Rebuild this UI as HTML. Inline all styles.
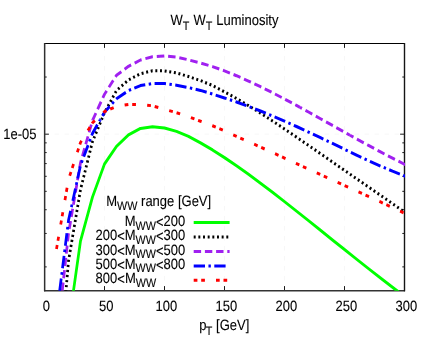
<!DOCTYPE html>
<html><head><meta charset="utf-8"><title>W_T W_T Luminosity</title>
<style>html,body{margin:0;padding:0;background:#fff;}body{width:427px;height:349px;position:relative;overflow:hidden;font-family:"Liberation Sans",sans-serif;}</style>
</head><body>
<svg width="427" height="349" viewBox="0 0 427 349" style="display:block;position:absolute;left:0;top:0">
<rect x="0" y="0" width="427" height="349" fill="#ffffff"/>
<path d="M104.5 290.5 V43.5 M164.5 290.5 V43.5 M224.5 290.5 V43.5 M284.5 290.5 V43.5 M344.5 290.5 V43.5 M44.5 134.08 H404.5" fill="none" stroke="#f7f7f7" stroke-width="1" stroke-dasharray="4.5 5.5"/>
<path d="M44.5 290.5 v-4.4 M44.5 43.5 v4.4 M104.5 290.5 v-4.4 M104.5 43.5 v4.4 M164.5 290.5 v-4.4 M164.5 43.5 v4.4 M224.5 290.5 v-4.4 M224.5 43.5 v4.4 M284.5 290.5 v-4.4 M284.5 43.5 v4.4 M344.5 290.5 v-4.4 M344.5 43.5 v4.4 M404.5 290.5 v-4.4 M404.5 43.5 v4.4 M44.5 77.03 h2.2 M404.5 77.03 h-2.2 M44.5 134.18 h4.4 M404.5 134.18 h-4.4 M44.5 142.87 h2.2 M404.5 142.87 h-2.2 M44.5 152.58 h2.2 M404.5 152.58 h-2.2 M44.5 163.59 h2.2 M404.5 163.59 h-2.2 M44.5 176.30 h2.2 M404.5 176.30 h-2.2 M44.5 191.33 h2.2 M404.5 191.33 h-2.2 M44.5 209.73 h2.2 M404.5 209.73 h-2.2 M44.5 233.45 h2.2 M404.5 233.45 h-2.2 M44.5 266.88 h2.2 M404.5 266.88 h-2.2" fill="none" stroke="#1a1a1a" stroke-width="1"/>
<path d="M44 43.5 H405" stroke="#000" stroke-width="1" fill="none"/>
<path d="M44 290.7 H405" stroke="#333" stroke-width="1.4" fill="none"/>
<path d="M44.65 43 V291.3" stroke="#303030" stroke-width="1.5" fill="none"/>
<path d="M404.5 43 V291.3" stroke="#151515" stroke-width="1.4" fill="none"/>
<defs><clipPath id="c"><rect x="44" y="43" width="361" height="247.8"/></clipPath></defs>
<g clip-path="url(#c)"><g transform="scale(1 1.09)" fill="none" stroke-width="2.75" stroke-linejoin="round">
<path d="M73.1 269.24 L80.5 221.10 L92.5 180.73 L104.5 150.46 L116.5 134.31 L128.5 123.76 L140.5 117.80 L152.5 116.33 L164.5 117.43 L176.5 120.55 L188.5 125.05 L200.5 131.10 L212.5 137.55 L224.5 144.61 L236.5 152.09 L248.5 159.92 L260.5 168.05 L272.5 176.41 L284.5 184.97 L296.5 193.66 L308.5 202.44 L320.5 211.27 L332.5 220.11 L344.5 228.94 L356.5 237.72 L368.5 246.43 L380.5 255.06 L392.5 263.60 L398.7 267.95" stroke="#00ff00"/>
<path d="M65.75 269.26 L68.50 239.51 L80.50 173.99 L92.50 129.92 L104.50 103.37 L116.50 83.07 L128.50 73.33 L140.50 67.61 L152.50 64.89 L164.50 65.03 L176.50 66.87 L188.50 70.21 L200.50 73.95 L212.50 78.45 L224.50 84.25 L236.50 90.37 L248.50 96.89 L260.50 103.78 L272.50 110.95 L284.50 118.32 L296.50 125.82 L308.50 133.40 L320.50 141.03 L332.50 148.67 L344.50 156.30 L356.50 163.92 L368.50 171.53 L380.50 179.15 L392.50 186.81 L406.95 196.13" stroke="#000000" stroke-dasharray="1.960 2.700" stroke-dashoffset="3.548"/>
<path d="M61.98 269.25 L64.53 247.71" stroke="#a020f0" stroke-dasharray="7.517 3.860" stroke-dashoffset="8.702"/>
<path d="M64.53 247.71 L68.50 214.26 L80.50 149.28 L92.50 110.54 L92.73 110.09" stroke="#a020f0" stroke-dasharray="7.517 3.860" stroke-dashoffset="7.641"/>
<path d="M92.73 110.09 L104.50 86.46 L116.50 69.09 L128.50 60.86 L140.50 55.03 L152.50 52.03 L160.00 51.57" stroke="#a020f0" stroke-dasharray="7.649 3.928" stroke-dashoffset="0.557"/>
<path d="M160.00 51.57 L164.50 51.29 L176.50 52.32 L188.50 54.91 L200.50 57.82 L212.50 61.10 L224.50 65.01 L236.50 69.47 L248.50 74.33 L260.50 79.53 L272.50 85.03 L284.50 90.78 L296.50 96.70 L300.00 98.47" stroke="#a020f0" stroke-dasharray="7.458 3.830" stroke-dashoffset="3.153"/>
<path d="M300.00 98.47 L308.50 102.76 L320.50 108.91 L332.50 115.09 L344.50 121.26 L350.00 124.07" stroke="#a020f0" stroke-dasharray="7.638 3.922" stroke-dashoffset="5.422"/>
<path d="M350.00 124.07 L356.50 127.39 L368.50 133.44 L380.50 139.36 L392.50 145.13 L407.18 151.96" stroke="#a020f0" stroke-dasharray="7.638 3.922" stroke-dashoffset="3.795"/>
<path d="M59.33 269.24 L62.28 247.71" stroke="#0000ff" stroke-dasharray="11.490 3.508 2.440 3.508" stroke-dashoffset="18.587"/>
<path d="M62.28 247.71 L68.50 202.26 L71.87 188.07" stroke="#0000ff" stroke-dasharray="11.490 3.508 2.440 3.508" stroke-dashoffset="19.380"/>
<path d="M71.87 188.07 L80.50 151.69 L92.50 122.33 L100.07 110.09" stroke="#0000ff" stroke-dasharray="11.521 3.517 2.447 3.517" stroke-dashoffset="17.037"/>
<path d="M100.07 110.09 L104.50 102.92 L116.50 90.64 L128.50 83.07 L140.50 78.51 L152.50 76.71 L160.00 76.70" stroke="#0000ff" stroke-dasharray="11.411 3.484 2.423 3.484" stroke-dashoffset="16.369"/>
<path d="M160.00 76.70 L164.50 76.70 L176.50 78.18 L188.50 80.33 L200.50 82.96 L212.50 86.30 L224.50 89.88 L236.50 93.58 L248.50 97.59 L260.50 101.86 L272.50 106.37 L284.50 111.11 L296.50 116.05 L308.50 121.14 L320.50 126.36 L332.50 131.64 L344.50 136.95 L350.00 139.36" stroke="#0000ff" stroke-dasharray="11.379 3.474 2.417 3.474" stroke-dashoffset="5.406"/>
<path d="M350.00 139.36 L356.50 142.21 L368.50 147.35 L380.50 152.32 L392.50 157.01 L407.29 162.36" stroke="#0000ff" stroke-dasharray="11.379 3.474 2.417 3.474" stroke-dashoffset="19.755"/>
<path d="M56.50 228.44 L64.10 188.07" stroke="#ff0000" stroke-dasharray="3.789 3.891 3.789 11.366" stroke-dashoffset="0.020"/>
<path d="M64.10 188.07 L68.50 164.72 L80.50 130.70 L92.50 112.79 L95.62 110.09" stroke="#ff0000" stroke-dasharray="3.789 3.891 3.789 11.366" stroke-dashoffset="18.263"/>
<path d="M95.62 110.09 L104.50 102.40 L116.50 97.55 L128.50 95.79 L140.50 95.87 L152.50 97.07 L164.50 100.29 L176.50 103.37 L188.50 107.05 L200.50 111.23 L212.50 115.37 L224.50 120.14 L236.50 125.07 L248.50 129.98 L260.50 134.95 L272.50 139.97 L284.50 145.01 L296.50 150.06 L308.50 155.11 L320.50 160.14 L332.50 165.16 L344.50 170.17 L356.50 175.18 L358.00 175.81" stroke="#ff0000" stroke-dasharray="3.753 3.855 3.753 11.260" stroke-dashoffset="12.332"/>
<path d="M358.00 175.81 L368.50 180.22 L380.50 185.29 L392.50 190.42 L407.21 196.83" stroke="#ff0000" stroke-dasharray="3.753 3.855 3.753 11.260" stroke-dashoffset="22.072"/>
</g></g>
<path d="M193.7 222.4 H229.6" stroke="#00ff00" stroke-width="3" fill="none"/>
<path d="M193.7 236.9 H229.6" stroke="#000000" stroke-width="3" fill="none" stroke-dasharray="1.96 2.7"/>
<path d="M193.7 251.4 H229.6" stroke="#a020f0" stroke-width="3" fill="none" stroke-dasharray="7.4 3.8"/>
<path d="M193.7 265.9 H229.0" stroke="#0000ff" stroke-width="3" fill="none" stroke-dasharray="11.3 3.45 2.4 3.45"/>
<path d="M193.7 280.3 H229.6" stroke="#ff0000" stroke-width="3" fill="none" stroke-dasharray="3.7 3.8 3.7 11.1"/>
<g font-family="'Liberation Sans', sans-serif" font-size="13" fill="#000" style="opacity:0.999" text-rendering="geometricPrecision" stroke="#000" stroke-width="0.1">
<text transform="translate(170.4 24.6) scale(1 1.15)">W<tspan font-size="10.8" dy="4.52">T</tspan><tspan dy="-4.52" dx="0.55"> W</tspan><tspan font-size="10.8" dy="4.52">T</tspan><tspan dy="-4.52" dx="0.3"> Luminosity</tspan></text>
<text transform="translate(36.5 139.3) scale(1 1.15)" text-anchor="end">1e-05</text>
<text transform="translate(46.3 310.8) scale(1 1.15)" text-anchor="middle">0</text>
<text transform="translate(106.3 310.8) scale(1 1.15)" text-anchor="middle">50</text>
<text transform="translate(166.3 310.8) scale(1 1.15)" text-anchor="middle">100</text>
<text transform="translate(226.3 310.8) scale(1 1.15)" text-anchor="middle">150</text>
<text transform="translate(286.3 310.8) scale(1 1.15)" text-anchor="middle">200</text>
<text transform="translate(346.3 310.8) scale(1 1.15)" text-anchor="middle">250</text>
<text transform="translate(406.3 310.8) scale(1 1.15)" text-anchor="middle">300</text>
<text transform="translate(199.2 330) scale(1 1.15)">p<tspan font-size="10.8" dy="4.61" dx="-0.6">T</tspan><tspan dy="-4.61"> [GeV]</tspan></text>
<text transform="translate(106.2 206) scale(1 1.15)">M<tspan font-size="10.8" dy="3.22">WW</tspan><tspan dy="-3.22"> range [GeV]</tspan></text>
<text transform="translate(185.3 226.2) scale(1 1.15)" text-anchor="end">M<tspan font-size="10.8" dy="3.22">WW</tspan><tspan dy="-2.26">&lt;</tspan><tspan dy="-0.96">200</tspan></text>
<text transform="translate(185.3 240.3) scale(1 1.15)" text-anchor="end">200<tspan dy="0.96">&lt;</tspan><tspan dy="-0.96">M</tspan><tspan font-size="10.8" dy="3.22">WW</tspan><tspan dy="-2.26">&lt;</tspan><tspan dy="-0.96">300</tspan></text>
<text transform="translate(185.3 254.5) scale(1 1.15)" text-anchor="end">300<tspan dy="0.96">&lt;</tspan><tspan dy="-0.96">M</tspan><tspan font-size="10.8" dy="3.22">WW</tspan><tspan dy="-2.26">&lt;</tspan><tspan dy="-0.96">500</tspan></text>
<text transform="translate(185.3 268.7) scale(1 1.15)" text-anchor="end">500<tspan dy="0.96">&lt;</tspan><tspan dy="-0.96">M</tspan><tspan font-size="10.8" dy="3.22">WW</tspan><tspan dy="-2.26">&lt;</tspan><tspan dy="-0.96">800</tspan></text>
<text transform="translate(95.6 283.0) scale(1 1.15)">800<tspan dy="0.96">&lt;</tspan><tspan dy="-0.96">M</tspan><tspan font-size="10.8" dy="3.22">WW</tspan></text>
</g>
</svg>
</body></html>
